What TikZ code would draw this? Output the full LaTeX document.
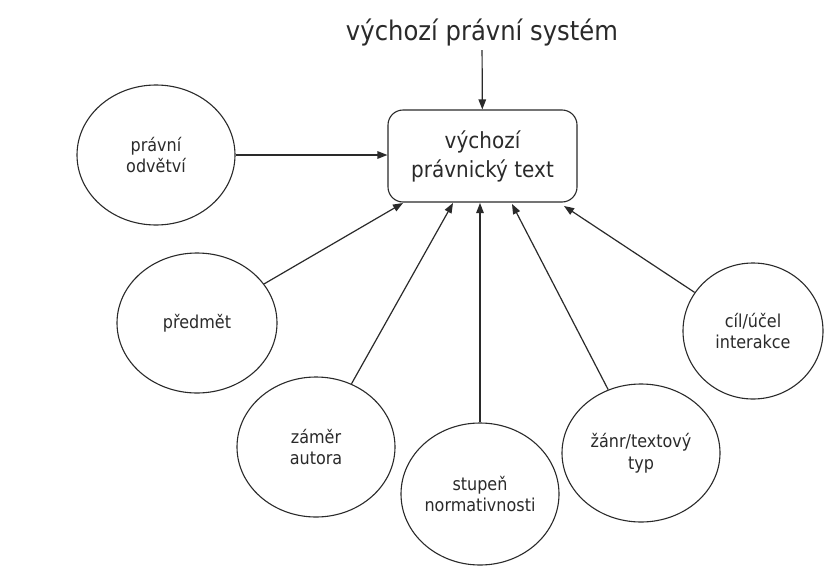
\documentclass[tikz,border=0pt]{standalone}
\usepackage{fontspec}
\setmainfont{DejaVu Sans}[FakeStretch=0.9]
\usetikzlibrary{shapes.geometric,arrows.meta}
\definecolor{ink}{HTML}{2A2A2A}
\tikzset{
  oval/.style={ellipse,draw=ink,line width=1.1pt,inner sep=0pt,align=center,
    font=\fontsize{17.8}{21.5}\selectfont,text=ink},
  arr/.style={draw=ink,line width=1.2pt,-{Triangle[length=10pt,width=7.5pt]}},
}
\begin{document}
\begin{tikzpicture}[x=1pt,y=1pt]
\useasboundingbox[fill=white] (0,0) rectangle (830,-573);
\node[font=\fontsize{27}{30}\selectfont,text=ink] (title) at (482,-33) {výchozí právní systém};
\node[draw=ink,line width=1.1pt,rounded corners=15pt,minimum width=189pt,minimum height=92pt,
  align=center,font=\fontsize{22.2}{29}\selectfont,text=ink] (box) at (482.5,-156) {výchozí\\právnický text};
\node[oval,minimum width=158pt,minimum height=140pt] (odv) at (156,-155) {právní\\odvětví};
\node[oval,minimum width=160pt,minimum height=140pt] (pred) at (197,-323) {předmět};
\node[oval,minimum width=158pt,minimum height=140pt] (zam) at (316,-447) {záměr\\autora};
\node[oval,minimum width=158pt,minimum height=142pt] (stu) at (480,-494) {stupeň\\normativnosti};
\node[oval,minimum width=158pt,minimum height=138pt] (zan) at (641,-453) {žánr/textový\\typ};
\node[oval,minimum width=140pt,minimum height=136pt] (cil) at (753,-331) {cíl/účel\\interakce};
\coordinate (t1) at (403,-203);
\coordinate (t2) at (453,-203);
\coordinate (t3) at (480,-203);
\coordinate (t4) at (512,-204);
\coordinate (t5) at (564,-206);
\draw[arr] (title) -- (box);
\draw[arr] (odv.east) -- (odv.east -| box.west);
\draw[arr] (pred) -- (t1);
\draw[arr] (zam) -- (t2);
\draw[arr] (stu.north) -- (t3);
\draw[arr] (zan) -- (t4);
\draw[arr] (cil) -- (t5);
\end{tikzpicture}
\end{document}
